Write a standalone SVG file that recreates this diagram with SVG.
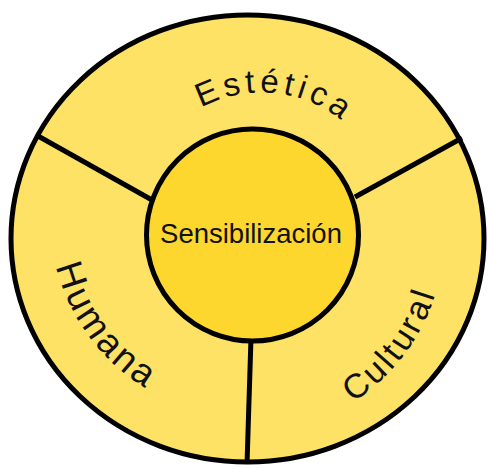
<svg xmlns="http://www.w3.org/2000/svg" width="488" height="468" viewBox="0 0 488 468">
  <style>
    .ring { fill: #FEE265; stroke: #000; stroke-width: 5; }
    .core { fill: #FDD72E; stroke: #000; stroke-width: 5; }
    .div { stroke: #000; stroke-width: 5; fill: none; stroke-linecap: butt; }
    .lbl { font-family: "Liberation Sans", Arial, sans-serif; fill: #111; }
  </style>
  <defs>
    <path id="pTop" d="M136.0,202.5 A127,127 0 0,1 388.5,229.1"/>
    <path id="pLeft" d="M127.5,63.1 A197,197 0 0,0 362.9,379.0"/>
    <path id="pRight" d="M131.2,395.4 A197,197 0 0,0 368.3,80.8"/>
  </defs>
  <g id="outer">
    <ellipse class="ring" cx="247.5" cy="238.5" rx="236.5" ry="223.5"/>
  </g>
  <g id="connectors">
    <line class="div" x1="38" y1="136" x2="152" y2="200"/>
    <line class="div" x1="462" y1="138" x2="355" y2="197"/>
    <line class="div" x1="251" y1="338" x2="247" y2="464"/>
  </g>
  <g id="sensibilizacion">
    <circle class="core" cx="252.5" cy="235" r="106"/>
    <text class="lbl" x="251" y="243" font-size="27.5" text-anchor="middle">Sensibilización</text>
  </g>
  <g id="estetica">
    <text class="lbl" font-size="33" letter-spacing="4.5"><textPath href="#pTop" startOffset="50%" text-anchor="middle">Estética</textPath></text>
  </g>
  <g id="humana">
    <text class="lbl" font-size="37" letter-spacing="3"><textPath href="#pLeft" startOffset="50%" text-anchor="middle">Humana</textPath></text>
  </g>
  <g id="cultural">
    <text class="lbl" font-size="34" letter-spacing="3"><textPath href="#pRight" startOffset="50%" text-anchor="middle">Cultural</textPath></text>
  </g>
</svg>
